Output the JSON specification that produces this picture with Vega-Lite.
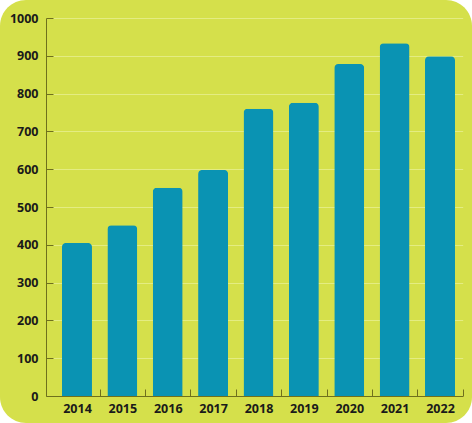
{
  "$schema": "https://vega.github.io/schema/vega-lite/v6.json",
  "width": 472,
  "height": 423,
  "autosize": {"type": "none"},
  "padding": 0,
  "background": "white",
  "config": {
    "view": {"fill": "#d5e04b", "stroke": null, "cornerRadius": 26},
    "axis": {
      "labelFont": "Open Sans",
      "labelFontWeight": "bold",
      "labelFontSize": 12.5,
      "labelColor": "#1a1a1a",
      "domainColor": "#6f701c",
      "tickColor": "#6f701c",
      "domainWidth": 1,
      "tickWidth": 1
    }
  },
  "data": {
    "values": [
      {"year": "2014", "value": 405},
      {"year": "2015", "value": 452},
      {"year": "2016", "value": 551},
      {"year": "2017", "value": 598},
      {"year": "2018", "value": 760},
      {"year": "2019", "value": 776},
      {"year": "2020", "value": 878},
      {"year": "2021", "value": 933},
      {"year": "2022", "value": 899}
    ]
  },
  "mark": {"type": "bar", "color": "#0a93b3", "cornerRadiusEnd": 4},
  "encoding": {
    "x": {
      "field": "year",
      "type": "nominal",
      "scale": {"range": [46, 462.7], "paddingInner": 0.339, "paddingOuter": 0.261, "align": 0.675},
      "axis": {
        "title": null,
        "labelAngle": 0,
        "offset": -27,
        "tickSize": -7,
        "tickOffset": 22.7,
        "labelOffset": -22.7,
        "labelPadding": 13
      }
    },
    "y": {
      "field": "value",
      "type": "quantitative",
      "scale": {"domain": [0, 1000], "range": [396, 18], "nice": false},
      "axis": {
        "title": null,
        "format": "d",
        "values": [0, 100, 200, 300, 400, 500, 600, 700, 800, 900, 1000],
        "offset": -46,
        "tickSize": -7,
        "labelPadding": 15,
        "grid": true,
        "gridColor": "#eef3a6",
        "gridWidth": 1,
        "gridOpacity": 0.6
      }
    }
  }
}
